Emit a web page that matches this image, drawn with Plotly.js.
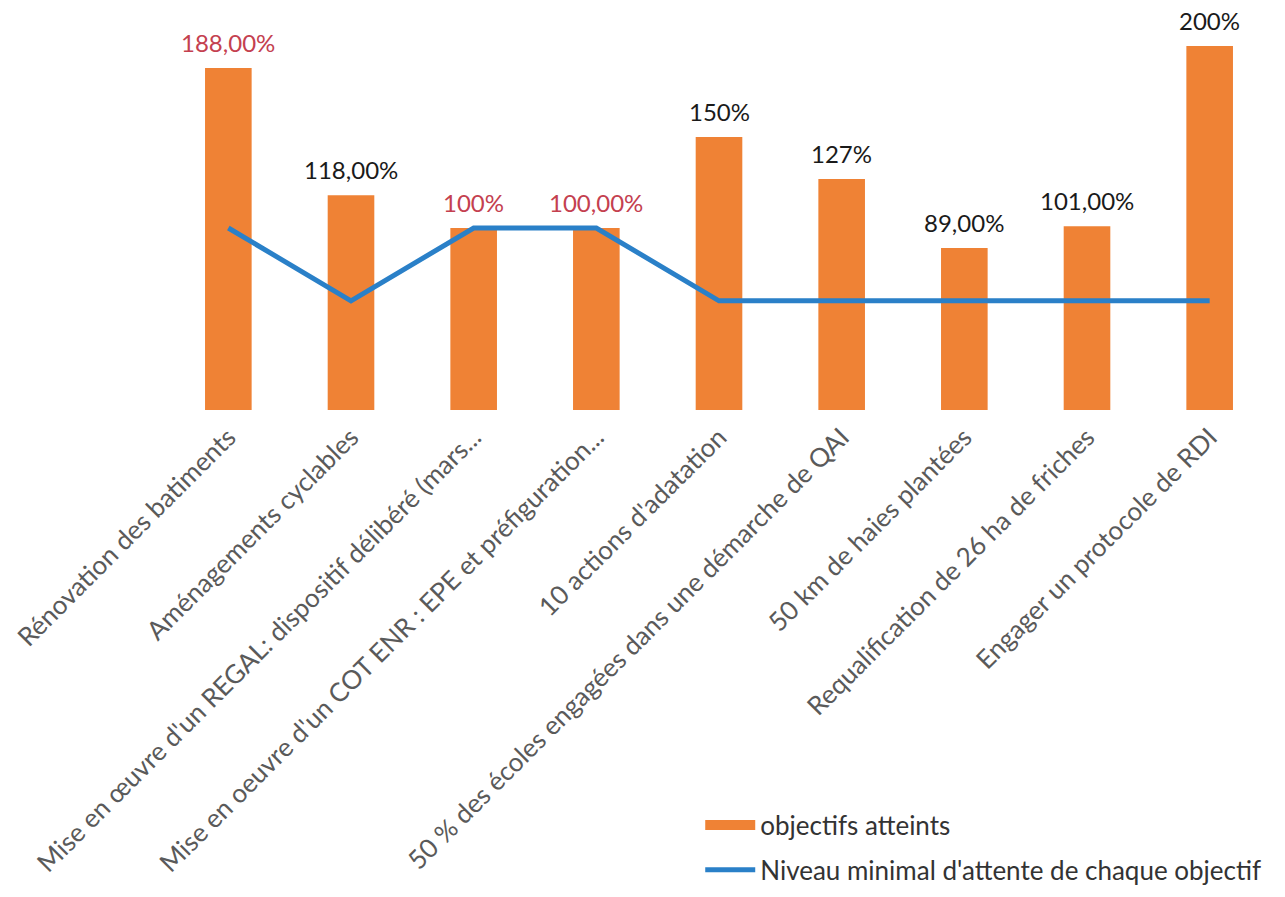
<!DOCTYPE html>
<html><head><meta charset="utf-8">
<script src="https://cdn.plot.ly/plotly-3.0.1.min.js"></script>
<style>html,body{margin:0;padding:0;background:#fff}#c{width:1285px;height:897px}</style>
</head><body><div id="c"></div>
<script>
const categories = [
  "Rénovation des batiments",
  "Aménagements cyclables",
  "Mise en œuvre d'un REGAL: dispositif délibéré (mars...",
  "Mise en oeuvre d'un COT ENR : EPE et préfiguration...",
  "10 actions d'adatation",
  "50 % des écoles engagées dans une démarche de QAI",
  "50 km de haies plantées",
  "Requalification de 26 ha de friches",
  "Engager un protocole de RDI"
];
const achieved = [188, 118, 100, 100, 150, 127, 89, 101, 200];
const achievedLabels = ["188,00%", "118,00%", "100%", "100,00%", "150%", "127%", "89,00%", "101,00%", "200%"];
const minimumLevel = [100, 60, 100, 100, 60, 60, 60, 60, 60];

const labelColors = ["#c4404f","#1a1a1a","#c4404f","#c4404f","#1a1a1a","#1a1a1a","#1a1a1a","#1a1a1a","#1a1a1a"];
const FONT = "Lato, 'Open Sans', sans-serif";
const ORANGE = "#ef8235";
const BLUE = "#2a80c8";

const traces = [
  {
    type: "bar", name: "objectifs atteints", showlegend: false,
    x: categories, y: achieved,
    marker: {color: ORANGE},
    hoverinfo: "x+y"
  },
  {
    type: "scatter", mode: "lines", name: "Niveau minimal d'attente de chaque objectif",
    x: categories, y: minimumLevel, showlegend: false,
    line: {color: BLUE, width: 5}
  },
  {
    type: "scatter", mode: "lines", name: "objectifs atteints", legendgroup: "a",
    x: [null], y: [null], line: {color: ORANGE, width: 17}
  },
  {
    type: "scatter", mode: "lines", name: "Niveau minimal d'attente de chaque objectif", legendgroup: "b",
    x: [null], y: [null], line: {color: BLUE, width: 5}
  }
];

const annotations = categories.map((c, i) => ({
  x: c, y: achieved[i], xref: "x", yref: "y",
  text: achievedLabels[i], showarrow: false,
  yanchor: "bottom", yshift: 9,
  font: {family: FONT, size: 24, color: labelColors[i]}
}));

const layout = {
  width: 1285, height: 897,
  margin: {l: 167, r: 14, t: 0, b: 487},
  paper_bgcolor: "#fff", plot_bgcolor: "#fff",
  font: {family: FONT, color: "#444"},
  bargap: 0.62,
  showlegend: true,
  annotations: annotations,
  legend: {
    x: 0.483, y: -0.955, xanchor: "left", yanchor: "top",
    font: {family: FONT, size: 26, color: "#333"},
    tracegroupgap: 8, itemwidth: 50, traceorder: "grouped"
  },
  xaxis: {
    type: "category", range: [-0.5, 8.5],
    tickangle: -45, automargin: false, ticklabelstandoff: 6,
    tickfont: {family: FONT, size: 26, color: "#5a5a5a"},
    showline: false, ticks: "", showgrid: false, zeroline: false
  },
  yaxis: {
    range: [0, 225.3], visible: false, showgrid: false, zeroline: false
  }
};

Plotly.newPlot("c", traces, layout, {displayModeBar: false, staticPlot: true});
</script></body></html>
